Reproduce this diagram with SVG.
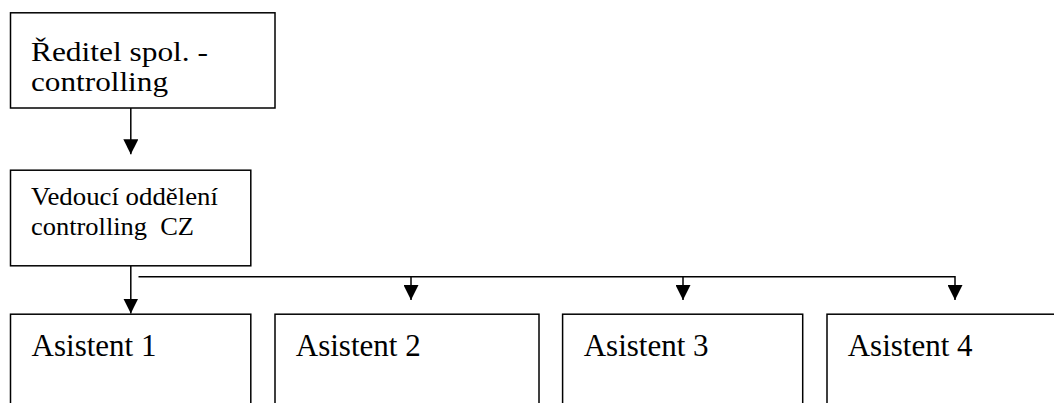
<svg xmlns="http://www.w3.org/2000/svg" width="1054" height="403" viewBox="0 0 1054 403">
  <style>
    .box { fill: #ffffff; stroke: #000000; stroke-width: 1.5; }
    .conn { fill: none; stroke: #000000; stroke-width: 1.5; }
    text { font-family: 'Liberation Serif', 'Times New Roman', Tinos, 'DejaVu Serif', serif; fill: #000000; }
    .big { font-size: 27px; }
    .mid { font-size: 25.5px; }
    .asi { font-size: 31px; }
  </style>
  <defs>
    <marker id="arrow" viewBox="0 0 15 15" markerWidth="15" markerHeight="15" refX="15" refY="7.5" orient="auto" markerUnits="userSpaceOnUse">
      <path d="M0,0 L15,7.5 L0,15 z" fill="#000000"/>
    </marker>
  </defs>
  <rect width="1054" height="403" fill="#ffffff"/>

  <g id="connectors">
    <line class="conn" x1="130.8" y1="108" x2="130.8" y2="154.3" marker-end="url(#arrow)"/>
    <line class="conn" x1="130.8" y1="266" x2="130.8" y2="313.5" marker-end="url(#arrow)"/>
    <polyline class="conn" points="138.5,276.7 955,276.7"/>
    <line class="conn" x1="411" y1="276.7" x2="411" y2="300" marker-end="url(#arrow)"/>
    <line class="conn" x1="683" y1="276.7" x2="683" y2="300" marker-end="url(#arrow)"/>
    <line class="conn" x1="955" y1="276" x2="955" y2="300" marker-end="url(#arrow)"/>
  </g>

  <g id="node-reditel">
    <rect class="box" x="10.5" y="12.8" width="264.5" height="95.2"/>
    <text class="big"><tspan x="31" y="61" textLength="177" lengthAdjust="spacingAndGlyphs">Ředitel spol. -</tspan><tspan x="31" y="91" textLength="137" lengthAdjust="spacingAndGlyphs">controlling</tspan></text>
  </g>

  <g id="node-vedouci">
    <rect class="box" x="10.5" y="170.2" width="240.3" height="95.6"/>
    <text class="mid"><tspan x="31" y="205" textLength="187" lengthAdjust="spacingAndGlyphs">Vedoucí oddělení</tspan><tspan x="31" y="235" xml:space="preserve" textLength="163" lengthAdjust="spacingAndGlyphs">controlling  CZ</tspan></text>
  </g>

  <g id="node-asistent1">
    <rect class="box" x="10.5" y="314.2" width="240.3" height="110"/>
    <text class="asi" x="31.6" y="355.5">Asistent 1</text>
  </g>

  <g id="node-asistent2">
    <rect class="box" x="275" y="314.2" width="264" height="110"/>
    <text class="asi" x="295.8" y="355.5">Asistent 2</text>
  </g>

  <g id="node-asistent3">
    <rect class="box" x="562.6" y="314.2" width="240.1" height="110"/>
    <text class="asi" x="583.7" y="355.5">Asistent 3</text>
  </g>

  <g id="node-asistent4">
    <rect class="box" x="827" y="314.2" width="250" height="110"/>
    <text class="asi" x="847.7" y="355.5">Asistent 4</text>
  </g>
</svg>
